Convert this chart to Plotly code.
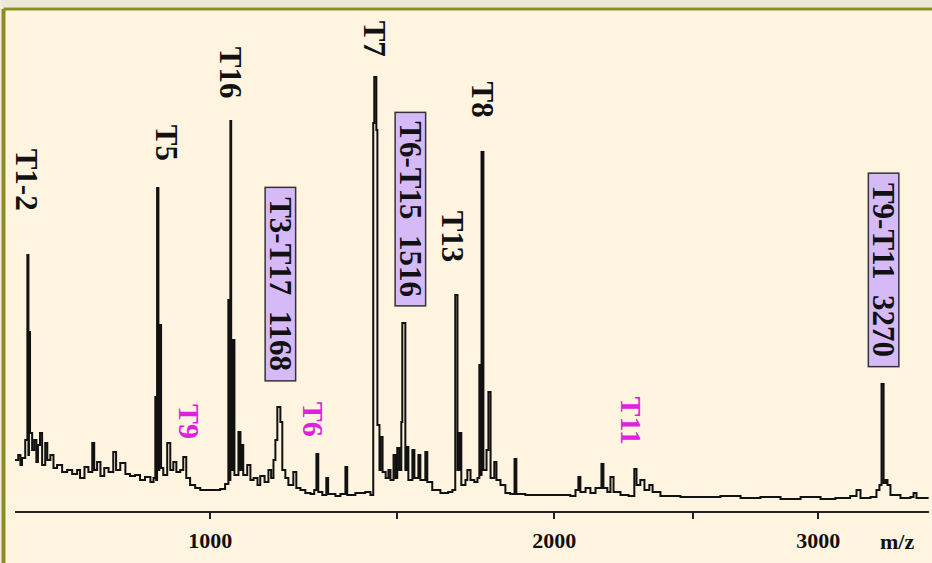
"""MALDI-TOF peptide mass fingerprint with labelled tryptic fragments."""

import numpy as np
import plotly.graph_objects as go

# spectrum trace: m/z and relative intensity (arbitrary units)
mz = [
    585, 591, 595, 598, 604, 608, 610, 611, 613, 617, 621, 625, 628, 632, 636, 642,
    646, 652, 658, 665, 675, 685, 695, 705, 711, 720, 728, 736, 740, 746, 753, 761,
    770, 780, 786, 795, 806, 816, 827, 838, 849, 861, 868, 872, 874, 876, 879, 881,
    885, 890, 899, 906, 913, 920, 929, 936, 943, 952, 964, 976, 1000, 1024, 1036, 1044,
    1046, 1049, 1051, 1054, 1059, 1069, 1074, 1076, 1081, 1091, 1099, 1107, 1117, 1124, 1135, 1145,
    1152, 1158, 1163, 1168, 1176, 1181, 1189, 1197, 1210, 1218, 1229, 1242, 1256, 1266, 1272, 1277,
    1288, 1299, 1304, 1324, 1338, 1352, 1357, 1380, 1408, 1423, 1431, 1434, 1440, 1443, 1449, 1452,
    1458, 1467, 1475, 1481, 1490, 1496, 1501, 1507, 1513, 1516, 1525, 1528, 1534, 1546, 1552, 1564,
    1570, 1585, 1591, 1606, 1631, 1655, 1668, 1677, 1684, 1690, 1696, 1709, 1715, 1725, 1737, 1747,
    1753, 1756, 1760, 1766, 1776, 1782, 1789, 1801, 1808, 1821, 1837, 1853, 1867, 1873, 1903, 1953,
    2021, 2055, 2073, 2083, 2090, 2108, 2125, 2143, 2164, 2171, 2185, 2196, 2207, 2232, 2261, 2282,
    2290, 2304, 2319, 2337, 2349, 2378, 2453, 2529, 2606, 2685, 2764, 2845, 2927, 3010, 3072, 3135,
    3162, 3179, 3222, 3248, 3261, 3270, 3279, 3288, 3296, 3309, 3353, 3397, 3411, 3424, 3474,
]
intensity = [
    51, 56, 46, 53, 71, 256, 56, 179, 78, 61, 71, 49, 66, 78, 46, 68,
    51, 56, 43, 46, 39, 41, 37, 41, 33, 44, 39, 68, 41, 49, 35, 43,
    39, 59, 41, 48, 37, 35, 36, 31, 34, 29, 33, 114, 31, 323, 41, 186,
    43, 36, 68, 41, 49, 39, 41, 54, 33, 26, 23, 21, 21, 22, 27, 211,
    31, 390, 41, 171, 36, 79, 41, 66, 36, 46, 31, 33, 26, 35, 29, 41,
    33, 51, 71, 104, 89, 41, 33, 26, 39, 23, 21, 18, 17, 21, 57, 19,
    16, 33, 17, 15, 17, 44, 16, 18, 19, 16, 388, 434, 381, 86, 41, 74,
    39, 33, 41, 31, 56, 33, 63, 41, 89, 188, 41, 64, 31, 61, 33, 56,
    31, 59, 29, 21, 18, 19, 21, 216, 41, 78, 26, 31, 41, 31, 29, 33,
    146, 36, 359, 41, 61, 119, 33, 49, 31, 26, 18, 17, 52, 17, 16, 16,
    16, 15, 21, 34, 19, 23, 18, 23, 47, 23, 19, 34, 19, 16, 15, 42,
    26, 31, 21, 26, 19, 15, 14, 14, 15, 13, 14, 12, 14, 12, 13, 15,
    21, 13, 14, 21, 26, 127, 28, 31, 26, 16, 13, 14, 18, 13, 12,
]

# axis ticks (m/z)
tick_mz = [1000, 1500, 2000, 2500, 3000]
tick_text = ["1000", "", "2000", "", "3000"]

# peak labels: text, m/z of label centre, height of label centre
peak_labels = ["T1-2", "T5", "T16", "T7", "T13", "T8"]
peak_label_mz = [608, 899, 1051, 1437, 1671, 1766]
peak_label_y = [331, 368, 438, 472, 274, 411]

boxed_labels = ["T3-T17\u00a0 1168", "T6-T15\u00a0 1516", "T9-T11\u00a0 3270"]
boxed_label_mz = [1176, 1540, 3279]
boxed_label_y = [227, 302, 241]

missing_labels = ["T9", "T6", "T11"]
missing_label_mz = [952, 1266, 2272]
missing_label_y = [90, 92, 91]

BG = "#FFF4DF"
OLIVE = "#8C8C24"
SERIF = "Liberation Serif"

# time-of-flight style axis: position grows with sqrt(m/z)
sx = lambda v: np.sqrt(np.asarray(v, dtype=float))

fig = go.Figure()

fig.add_trace(
    go.Scatter(
        x=sx(mz),
        y=intensity,
        mode="lines",
        line=dict(color="#111111", width=2, shape="hv"),
        hoverinfo="skip",
        showlegend=False,
    )
)

for text, m, y in zip(peak_labels, peak_label_mz, peak_label_y):
    fig.add_annotation(
        x=float(sx(m)), y=y, text=text, showarrow=False, textangle=90,
        font=dict(family=SERIF, size=31, color="#111111", weight="bold"),
    )

for text, m, y in zip(boxed_labels, boxed_label_mz, boxed_label_y):
    fig.add_annotation(
        x=float(sx(m)), y=y, text=text, showarrow=False, textangle=90,
        font=dict(family=SERIF, size=31, color="#111111", weight="bold"),
        width=192, height=29,
        bgcolor="#D5BAF7", bordercolor="#333333", borderwidth=1.5, borderpad=0,
    )

for text, m, y in zip(missing_labels, missing_label_mz, missing_label_y):
    fig.add_annotation(
        x=float(sx(m)), y=y, text=text, showarrow=False, textangle=90,
        font=dict(family=SERIF, size=30, color="#E020E0", weight="bold"),
    )

fig.add_annotation(
    xref="paper", yref="paper", x=0.986, y=-0.06, yanchor="middle", text="m/z", showarrow=False,
    font=dict(family=SERIF, size=22, color="#111111", weight="bold"),
)

# window frame around the spectrum
fig.add_shape(type="rect", xref="paper", yref="paper", x0=-0.1, x1=1.1, y0=1.002, y1=1.06,
              fillcolor="#ECE8DC", line_width=0, layer="below")
fig.add_shape(type="rect", xref="paper", yref="paper", x0=-0.1, x1=-0.015, y0=1.06, y1=-0.12,
              fillcolor="#F3EEDD", line_width=0, layer="below")
fig.add_shape(type="line", xref="paper", yref="paper", x0=-0.0126, x1=1.1, y0=0.998, y1=0.998,
              line=dict(color=OLIVE, width=3), layer="below")
fig.add_shape(type="line", xref="paper", yref="paper", x0=-0.0126, x1=-0.0126, y0=0.998, y1=-0.12,
              line=dict(color=OLIVE, width=4), layer="below")

fig.update_layout(
    width=932,
    height=563,
    margin=dict(l=15, r=3, t=8, b=52),
    paper_bgcolor=BG,
    plot_bgcolor=BG,
    xaxis=dict(
        range=[float(sx(585)), float(sx(3480))],
        tickvals=sx(tick_mz),
        ticktext=tick_text,
        ticks="outside",
        ticklen=6,
        tickwidth=2,
        tickcolor="#222222",
        ticklabelstandoff=3,
        showline=True,
        linewidth=2,
        linecolor="#222222",
        showgrid=False,
        zeroline=False,
        tickfont=dict(family=SERIF, size=22, color="#111111", weight="bold"),
    ),
    yaxis=dict(range=[0, 503], visible=False),
)

# the page body has a default 8px margin; drop it so the figure fills the window
fig.write_html(
    "out.html",
    config={"displayModeBar": False},
    post_script="document.body.style.margin = '0';",
)
